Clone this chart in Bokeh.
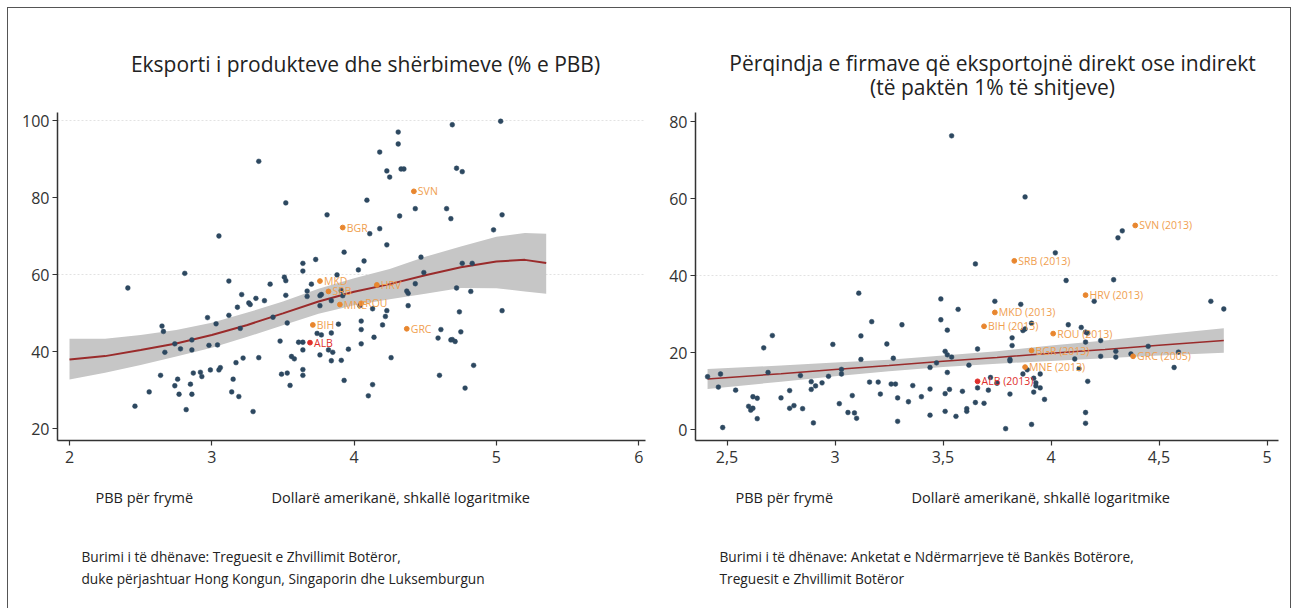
from bokeh.plotting import figure
from bokeh.models import Range1d, FixedTicker
from bokeh.layouts import row, column
from bokeh.core.properties import value
from bokeh.embed import file_html
from bokeh.resources import INLINE

FONT = "Open Sans"

# ---------------- data: left panel ----------------
left_title = "Eksporti i produkteve dhe shërbimeve (% e PBB)"
left_x = [2.41, 3.33, 3.52, 3.81, 3.05, 2.81, 3.12, 3.41, 3.51, 3.52, 3.64, 3.64, 3.73, 3.70, 3.21, 3.31, 3.37,
          3.52, 3.67, 3.67, 3.76, 4.69, 5.03, 4.31, 4.31, 4.18, 4.23, 4.25, 4.33, 4.35, 4.72, 4.76, 4.09, 4.43,
          4.32, 4.65, 4.68, 5.04, 4.98, 4.18, 4.11, 4.23, 3.93, 4.07, 4.03, 3.88, 4.47, 4.49, 4.43, 4.76, 4.83,
          4.72, 4.82, 4.37, 4.38, 3.77, 3.91, 3.92, 3.84, 3.76, 4.04, 4.13, 4.23, 4.22, 4.38, 4.74, 5.04, 4.05,
          4.05, 4.20, 3.89, 3.74, 3.77, 3.84, 4.14, 4.05, 3.64, 3.64, 3.76, 3.82, 3.85, 3.84, 3.91, 3.96, 4.26,
          4.61, 4.59, 4.68, 4.69, 4.71, 4.75, 4.84, 4.60, 4.78, 3.64, 3.64, 3.93, 4.13, 4.10, 3.18, 3.26, 3.27,
          3.12, 2.97, 3.03, 3.20, 3.43, 3.53, 2.65, 2.66, 2.86, 2.74, 2.78, 2.86, 2.98, 3.04, 2.67, 3.48, 3.61,
          3.17, 3.22, 3.33, 3.56, 3.58, 2.64, 2.87, 2.92, 2.93, 2.99, 3.05, 3.06, 3.15, 2.76, 2.74, 2.85, 3.49,
          3.53, 3.55, 2.56, 2.77, 2.86, 3.14, 3.19, 2.46, 2.82, 3.29]
left_y = [56.5, 89.4, 78.6, 75.5, 70.0, 60.3, 58.3, 57.5, 59.3, 58.4, 60.9, 62.9, 63.9, 57.5, 54.8, 53.8, 53.2,
          54.6, 55.7, 54.3, 54.5, 98.9, 99.8, 97.0, 93.9, 91.8, 86.9, 85.3, 87.4, 87.4, 87.6, 86.7, 79.3, 77.1,
          75.2, 77.1, 74.5, 75.5, 71.6, 71.9, 70.6, 67.7, 65.8, 63.5, 61.2, 59.9, 64.5, 60.5, 57.6, 62.9, 62.9,
          56.5, 55.6, 55.7, 55.1, 54.8, 55.8, 54.5, 53.2, 51.9, 51.9, 51.1, 50.6, 49.1, 51.9, 50.3, 50.6, 47.9,
          45.7, 46.9, 47.1, 44.7, 44.3, 44.8, 43.7, 42.0, 42.4, 40.4, 39.1, 40.4, 39.8, 37.6, 37.7, 40.6, 38.4,
          45.7, 43.5, 43.0, 43.1, 42.6, 45.1, 36.4, 33.8, 30.5, 35.3, 33.8, 32.5, 31.4, 28.5, 51.5, 52.6, 52.2,
          49.4, 48.8, 47.2, 46.0, 48.9, 47.4, 46.6, 45.2, 43.0, 42.0, 40.7, 40.4, 41.6, 41.7, 39.8, 42.7, 42.4,
          37.1, 38.3, 38.4, 38.7, 38.1, 33.8, 34.4, 34.6, 33.5, 35.2, 35.2, 35.8, 32.8, 32.8, 31.1, 31.5, 34.1,
          34.4, 31.2, 29.5, 28.9, 28.9, 29.5, 28.3, 25.8, 24.9, 24.4]
left_lab = ["SVN", "BGR", "MKD", "SRB", "HRV", "MNE", "ROU", "BIH", "GRC"]
left_lab_x = [4.42, 3.92, 3.76, 3.82, 4.16, 3.90, 4.05, 3.71, 4.37]
left_lab_y = [81.6, 72.2, 58.3, 55.6, 57.3, 52.2, 52.5, 46.9, 45.9]
left_alb = ["ALB"]
left_alb_x = [3.69]
left_alb_y = [42.3]
left_fit_x = [2.0, 2.25, 2.5, 2.75, 3.0, 3.25, 3.5, 3.75, 4.0, 4.25, 4.5, 4.75, 5.0, 5.2, 5.35]
left_fit = [37.9, 38.8, 40.4, 42.1, 44.3, 46.9, 49.9, 53.0, 55.5, 57.5, 59.8, 61.9, 63.4, 63.8, 63.0]
left_lo = [32.7, 34.5, 36.5, 38.7, 41.0, 43.8, 46.8, 49.8, 52.0, 53.6, 55.0, 56.5, 56.4, 55.6, 55.0]
left_hi = [43.3, 43.3, 44.3, 45.6, 47.5, 50.1, 53.0, 56.3, 59.0, 61.4, 64.6, 67.3, 69.8, 70.8, 70.6]
left_xticks = [2, 3, 4, 5, 6]
left_yticks = [20, 40, 60, 80, 100]

# ---------------- data: right panel ----------------
right_title = ["Përqindja e firmave që eksportojnë direkt ose indirekt", "(të paktën 1% të shitjeve)"]
right_x = [3.54, 3.65, 3.11, 3.49, 3.88, 4.33, 4.31, 4.02, 4.07, 4.29, 4.20, 3.74, 3.86, 4.74, 4.80, 3.91, 3.87,
           3.88, 4.08, 4.14, 4.16, 4.17, 4.16, 4.23, 3.82, 3.82, 3.66, 4.45, 4.59, 4.30, 4.30, 4.37, 4.11, 4.23,
           3.81, 3.81, 3.62, 4.13, 4.57, 3.89, 3.87, 3.95, 3.92, 3.93, 3.75, 3.72, 3.66, 3.71, 3.93, 3.95, 3.92,
           3.59, 3.81, 4.17, 3.97, 3.65, 3.69, 3.61, 3.61, 4.16, 4.16, 3.91, 3.79, 2.41, 2.47, 2.46, 2.48, 2.54,
           2.60, 2.61, 2.62, 2.62, 2.64, 2.64, 2.67, 2.69, 2.71, 2.75, 2.79, 2.79, 2.81, 2.84, 2.85, 2.89, 2.89,
           2.91, 2.90, 2.94, 2.97, 2.99, 3.02, 3.03, 3.03, 3.06, 3.08, 3.09, 3.10, 3.12, 3.12, 3.16, 3.17, 3.20,
           3.21, 3.24, 3.26, 3.28, 3.27, 3.29, 3.29, 3.31, 3.34, 3.36, 3.40, 3.44, 3.44, 3.44, 3.47, 3.49, 3.51,
           3.51, 3.51, 3.52, 3.52, 3.52, 3.53, 3.54, 3.57, 3.56]
right_y = [76.4, 43.1, 35.5, 34.0, 60.5, 51.7, 49.9, 46.0, 38.8, 39.0, 33.4, 33.4, 32.6, 33.4, 31.4, 27.7, 25.8,
           26.2, 27.3, 26.6, 25.4, 25.1, 22.8, 23.2, 23.9, 21.9, 21.0, 21.7, 20.2, 20.4, 18.9, 19.7, 18.4, 19.1,
           18.3, 17.9, 16.8, 15.9, 16.2, 15.6, 14.5, 14.5, 13.4, 12.2, 12.1, 13.6, 10.9, 10.3, 11.4, 10.9, 9.8,
           10.0, 9.3, 12.6, 7.9, 7.1, 6.9, 5.5, 4.8, 4.5, 1.7, 1.4, 0.3, 13.8, 14.5, 11.1, 0.6, 10.3,
           6.1, 5.1, 5.6, 8.6, 8.2, 2.9, 21.3, 14.9, 24.5, 8.3, 10.2, 5.6, 6.3, 14.1, 5.5, 12.5, 10.5,
           11.4, 1.8, 12.2, 13.9, 22.2, 6.8, 15.7, 14.5, 4.5, 8.9, 4.4, 3.0, 24.4, 18.3, 12.4, 28.1, 12.4,
           9.3, 22.3, 11.9, 11.9, 18.6, 8.3, 2.2, 27.3, 7.3, 11.5, 8.6, 3.8, 16.2, 10.6, 17.4, 28.6, 4.8,
           9.4, 20.4, 19.5, 25.9, 14.9, 10.5, 18.9, 31.3, 3.5]
right_lab = ["SVN (2013)", "SRB (2013)", "HRV (2013)", "MKD (2013)", "BIH (2013)", "ROU (2013)",
             "BGR (2013)", "GRC (2005)", "MNE (2013)"]
right_lab_x = [4.39, 3.83, 4.16, 3.74, 3.69, 4.01, 3.91, 4.38, 3.88]
right_lab_y = [53.1, 43.9, 35.0, 30.5, 26.9, 25.0, 20.6, 19.1, 16.3]
right_alb = ["ALB (2013)"]
right_alb_x = [3.66]
right_alb_y = [12.6]
right_fit_x = [2.41, 2.75, 3.0, 3.25, 3.5, 3.75, 4.0, 4.25, 4.5, 4.80]
right_fit = [13.2, 14.6, 15.7, 16.7, 17.8, 18.8, 19.9, 20.9, 22.0, 23.2]
right_lo = [10.6, 12.5, 13.9, 15.2, 16.3, 17.2, 17.9, 18.6, 19.3, 20.0]
right_hi = [15.8, 16.7, 17.5, 18.2, 19.3, 20.4, 21.9, 23.2, 24.7, 26.4]
right_xticks = [2.5, 3, 3.5, 4, 4.5, 5]
right_xtick_labels = ["2,5", "3", "3,5", "4", "4,5", "5"]
right_yticks = [0, 20, 40, 60, 80]

xlabel_a = "PBB për frymë"
xlabel_b = "Dollarë amerikanë, shkallë logaritmike"
left_source = ["Burimi i të dhënave: Treguesit e Zhvillimit Botëror,",
               "duke përjashtuar Hong Kongun, Singaporin dhe Luksemburgun"]
right_source = ["Burimi i të dhënave: Anketat e Ndërmarrjeve të Bankës Botërore,",
                "Treguesit e Zhvillimit Botëror"]

DOT = "#2d4860"
ORANGE = "#e8862e"
ORANGE_T = "#f0a050"
RED = "#e0302c"
BAND = "#c6c6c6"
LINE = "#9a2b2b"
AX = "#333333"
TXT = "#222222"

# layout geometry (page pixels; content origin ~ (8, 8))
OX, OY = 8, 8
W_L, W_R = 638, 644
TOP_H, PLOT_H, BOT_H = 92, 370, 138
ROW_TOP = OY + TOP_H          # 100
ROW_BOT = ROW_TOP + PLOT_H    # 470
AXIS_Y = 440


def text_fig(width, height):
    t = figure(width=width, height=height, output_backend="svg", toolbar_location=None,
               x_range=Range1d(0, width), y_range=Range1d(height, 0),
               x_axis_type=None, y_axis_type=None,
               min_border=0, min_border_left=0, min_border_right=0,
               min_border_top=0, min_border_bottom=0)
    t.outline_line_color = None
    t.xgrid.visible = False
    t.ygrid.visible = False
    return t


def put(t, x0, y0, px, py, text, size, align="left", color=TXT):
    t.text([px - x0], [py - y0], text=[text], text_font=value(FONT), text_font_size=size,
           text_color=color, text_align=align, text_baseline="middle")


def make_panel(width, fig_left, frame_left, frame_right, frame_top, xr, yr, xticks, yticks, grid_y):
    p = figure(width=width, height=PLOT_H, output_backend="svg", toolbar_location=None,
               x_range=Range1d(*xr), y_range=Range1d(*yr),
               min_border_left=frame_left - fig_left,
               min_border_right=fig_left + width - frame_right,
               min_border_top=frame_top - ROW_TOP,
               min_border_bottom=ROW_BOT - AXIS_Y)
    p.outline_line_color = None
    for ax in (p.xaxis[0], p.yaxis[0]):
        ax.axis_line_color = AX
        ax.axis_line_width = 1.5
        ax.major_tick_line_color = AX
        ax.major_tick_line_width = 1.2
        ax.major_tick_out = 5
        ax.major_tick_in = 0
        ax.minor_tick_line_color = None
        ax.major_label_text_font = FONT
        ax.major_label_text_font_size = "16px"
        ax.major_label_text_color = "#333333"
    p.xaxis.major_label_standoff = 5
    p.yaxis.major_label_standoff = 3
    p.xaxis.ticker = FixedTicker(ticks=xticks)
    p.yaxis.ticker = FixedTicker(ticks=yticks)
    p.xgrid.grid_line_color = None
    p.ygrid.ticker = FixedTicker(ticks=grid_y)
    p.ygrid.grid_line_color = "#e2e2e2"
    p.ygrid.grid_line_dash = "2 2"
    p.ygrid.grid_line_width = 1
    return p


def draw_scatter(p, xs, ys, lab, lx, ly, alb, ax_, ay_, fx, fit, lo, hi, lab_size, lw):
    p.varea(x=fx, y1=lo, y2=hi, fill_color=BAND, fill_alpha=1.0)
    p.line(fx, fit, line_color=LINE, line_width=lw)
    p.scatter(xs, ys, size=4.8, fill_color=DOT, line_color=DOT, line_width=0.5)
    p.scatter(lx, ly, size=4.8, fill_color=ORANGE, line_color=ORANGE)
    p.text(lx, ly, text=lab, x_offset=4, text_baseline="middle", text_font=value(FONT),
           text_font_size=lab_size, text_color=ORANGE_T)
    p.scatter(ax_, ay_, size=4.8, fill_color=RED, line_color=RED)
    p.text(ax_, ay_, text=alb, x_offset=4, text_baseline="middle", text_font=value(FONT),
           text_font_size=lab_size, text_color=RED)


# ---------------- left panel ----------------
lxr = (2 - 12 / 142.3, 2 + 576 / 142.3)
lyr = (20 - 12 / 3.85, 20 + 316 / 3.85)
p1 = make_panel(W_L, OX, 57, 645, 112, lxr, lyr, left_xticks, left_yticks, [60, 100])
draw_scatter(p1, left_x, left_y, left_lab, left_lab_x, left_lab_y, left_alb, left_alb_x, left_alb_y,
             left_fit_x, left_fit, left_lo, left_hi, "10.5px", 2)

# ---------------- right panel ----------------
rxr = (2.5 - 31.5 / 216, 2.5 + 551.5 / 216)
ryr = (-11 / 3.966, 327 / 3.966)
p2 = make_panel(W_R, OX + W_L, 695, 1278, 102, rxr, ryr, right_xticks, right_yticks, [40])
p2.xaxis.major_label_overrides = {t: s for t, s in zip(right_xticks, right_xtick_labels)}
draw_scatter(p2, right_x, right_y, right_lab, right_lab_x, right_lab_y, right_alb, right_alb_x, right_alb_y,
             right_fit_x, right_fit, right_lo, right_hi, "10.5px", 1.5)

# ---------------- text rows ----------------
t1 = text_fig(W_L, TOP_H)
put(t1, OX, OY, 365, 63, left_title, "21px", align="center")
t2 = text_fig(W_R, TOP_H)
put(t2, OX + W_L, OY, 992, 62, right_title[0], "21px", align="center")
put(t2, OX + W_L, OY, 992, 86, right_title[1], "21px", align="center")

b = text_fig(W_L + W_R, BOT_H)
put(b, OX, ROW_BOT, 95, 497, xlabel_a, "14.5px")
put(b, OX, ROW_BOT, 271, 497, xlabel_b, "14.5px")
put(b, OX, ROW_BOT, 81, 556, left_source[0], "13.7px")
put(b, OX, ROW_BOT, 81, 578, left_source[1], "13.7px")
put(b, OX, ROW_BOT, 735, 497, xlabel_a, "14.5px")
put(b, OX, ROW_BOT, 911, 497, xlabel_b, "14.5px")
put(b, OX, ROW_BOT, 719, 556, right_source[0], "13.7px")
put(b, OX, ROW_BOT, 719, 578, right_source[1], "13.7px")

layout = column(row(t1, t2), row(p1, p2), b,
                styles={"margin-left": "6.5px", "margin-top": "6.5px",
                        "border-left": "1.5px solid #555555", "border-top": "1.5px solid #555555",
                        "border-right": "1.5px solid #555555", "width": "fit-content"})
open("out.html", "w").write(file_html(layout, INLINE))
